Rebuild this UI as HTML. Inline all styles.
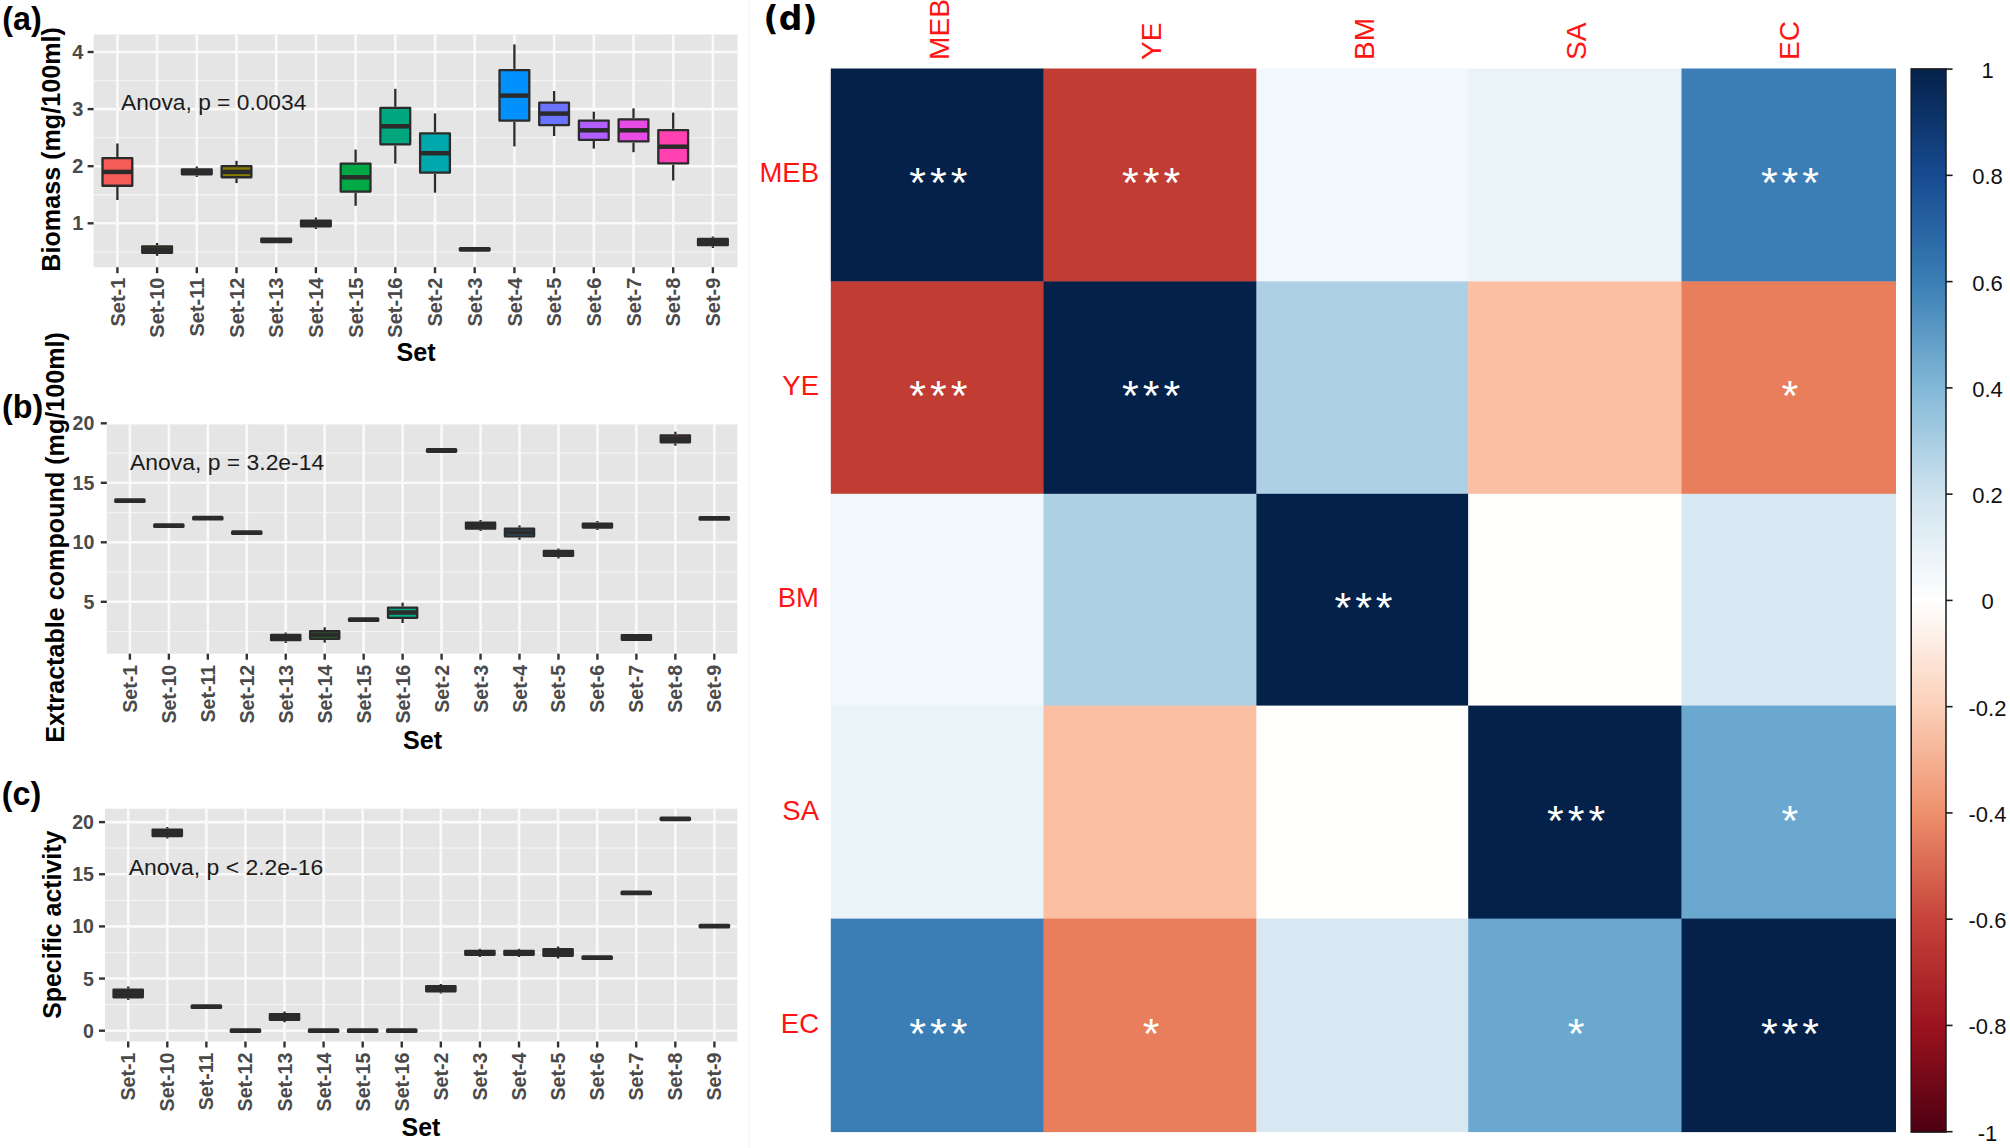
<!DOCTYPE html>
<html lang="en"><head><meta charset="utf-8"><title>Figure: boxplots and correlation heatmap</title>
<style>html,body{margin:0;padding:0;background:#fff}body{width:2010px;height:1148px;overflow:hidden}svg{display:block}</style>
</head><body>
<svg width="2010" height="1148" viewBox="0 0 2010 1148">
<rect width="2010" height="1148" fill="#fff"/>
<line x1="749.5" x2="749.5" y1="0" y2="1148" stroke="#f6f6f6" stroke-width="1"/>
<g>
<g id="panel-a">
<clipPath id="clip-a"><rect x="93.6" y="34.5" width="643.9" height="232.7"/></clipPath>
<rect x="93.6" y="34.5" width="643.9" height="232.7" fill="#e5e5e5"/>
<g clip-path="url(#clip-a)">
<line x1="93.6" x2="737.5" y1="251.85" y2="251.85" stroke="#f3f3f3" stroke-width="1.3"/>
<line x1="93.6" x2="737.5" y1="194.75" y2="194.75" stroke="#f3f3f3" stroke-width="1.3"/>
<line x1="93.6" x2="737.5" y1="137.65" y2="137.65" stroke="#f3f3f3" stroke-width="1.3"/>
<line x1="93.6" x2="737.5" y1="80.55" y2="80.55" stroke="#f3f3f3" stroke-width="1.3"/>
<line x1="93.6" x2="737.5" y1="223.3" y2="223.3" stroke="#fafafa" stroke-width="2.6"/>
<line x1="93.6" x2="737.5" y1="166.2" y2="166.2" stroke="#fafafa" stroke-width="2.6"/>
<line x1="93.6" x2="737.5" y1="109.1" y2="109.1" stroke="#fafafa" stroke-width="2.6"/>
<line x1="93.6" x2="737.5" y1="52" y2="52" stroke="#fafafa" stroke-width="2.6"/>
<line y1="34.5" y2="267.2" x1="117.4" x2="117.4" stroke="#fafafa" stroke-width="2.6"/>
<line y1="34.5" y2="267.2" x1="157.1" x2="157.1" stroke="#fafafa" stroke-width="2.6"/>
<line y1="34.5" y2="267.2" x1="196.8" x2="196.8" stroke="#fafafa" stroke-width="2.6"/>
<line y1="34.5" y2="267.2" x1="236.5" x2="236.5" stroke="#fafafa" stroke-width="2.6"/>
<line y1="34.5" y2="267.2" x1="276.2" x2="276.2" stroke="#fafafa" stroke-width="2.6"/>
<line y1="34.5" y2="267.2" x1="315.9" x2="315.9" stroke="#fafafa" stroke-width="2.6"/>
<line y1="34.5" y2="267.2" x1="355.6" x2="355.6" stroke="#fafafa" stroke-width="2.6"/>
<line y1="34.5" y2="267.2" x1="395.3" x2="395.3" stroke="#fafafa" stroke-width="2.6"/>
<line y1="34.5" y2="267.2" x1="435" x2="435" stroke="#fafafa" stroke-width="2.6"/>
<line y1="34.5" y2="267.2" x1="474.7" x2="474.7" stroke="#fafafa" stroke-width="2.6"/>
<line y1="34.5" y2="267.2" x1="514.4" x2="514.4" stroke="#fafafa" stroke-width="2.6"/>
<line y1="34.5" y2="267.2" x1="554.1" x2="554.1" stroke="#fafafa" stroke-width="2.6"/>
<line y1="34.5" y2="267.2" x1="593.8" x2="593.8" stroke="#fafafa" stroke-width="2.6"/>
<line y1="34.5" y2="267.2" x1="633.5" x2="633.5" stroke="#fafafa" stroke-width="2.6"/>
<line y1="34.5" y2="267.2" x1="673.2" x2="673.2" stroke="#fafafa" stroke-width="2.6"/>
<line y1="34.5" y2="267.2" x1="712.9" x2="712.9" stroke="#fafafa" stroke-width="2.6"/>
</g>
<line x1="117.4" x2="117.4" y1="143.5" y2="157" stroke="#2b2b2b" stroke-width="2.3"/>
<line x1="117.4" x2="117.4" y1="186.9" y2="200" stroke="#2b2b2b" stroke-width="2.3"/>
<rect x="102.51" y="158.15" width="29.78" height="27.6" fill="#f55c57" stroke="#2b2b2b" stroke-width="2.3" stroke-linejoin="round"/>
<line x1="102.51" x2="132.29" y1="171.9" y2="171.9" stroke="#2b2b2b" stroke-width="4.5"/>
<line x1="157.1" x2="157.1" y1="243" y2="245.2" stroke="#2b2b2b" stroke-width="2.3"/>
<line x1="157.1" x2="157.1" y1="253.9" y2="255.9" stroke="#2b2b2b" stroke-width="2.3"/>
<rect x="142.21" y="246.35" width="29.78" height="6.4" fill="#7a5210" stroke="#2b2b2b" stroke-width="2.3" stroke-linejoin="round"/>
<line x1="142.21" x2="171.99" y1="249.6" y2="249.6" stroke="#2b2b2b" stroke-width="4.5"/>
<line x1="196.8" x2="196.8" y1="166.5" y2="168.3" stroke="#2b2b2b" stroke-width="2.3"/>
<line x1="196.8" x2="196.8" y1="175.5" y2="177" stroke="#2b2b2b" stroke-width="2.3"/>
<rect x="181.91" y="169.45" width="29.78" height="4.9" fill="#2b2b2b" stroke="#2b2b2b" stroke-width="2.3" stroke-linejoin="round"/>
<line x1="181.91" x2="211.69" y1="171.9" y2="171.9" stroke="#2b2b2b" stroke-width="4.5"/>
<line x1="236.5" x2="236.5" y1="160.8" y2="165" stroke="#2b2b2b" stroke-width="2.3"/>
<line x1="236.5" x2="236.5" y1="178.4" y2="183.1" stroke="#2b2b2b" stroke-width="2.3"/>
<rect x="221.61" y="166.15" width="29.78" height="11.1" fill="#857c00" stroke="#2b2b2b" stroke-width="2.3" stroke-linejoin="round"/>
<line x1="221.61" x2="251.39" y1="171.9" y2="171.9" stroke="#2b2b2b" stroke-width="4.5"/>
<rect x="261.31" y="238.75" width="29.78" height="3.3" fill="#2b2b2b" stroke="#2b2b2b" stroke-width="2.3" stroke-linejoin="round"/>
<line x1="261.31" x2="291.09" y1="240.4" y2="240.4" stroke="#2b2b2b" stroke-width="4.5"/>
<line x1="315.9" x2="315.9" y1="217.5" y2="219.6" stroke="#2b2b2b" stroke-width="2.3"/>
<line x1="315.9" x2="315.9" y1="227.4" y2="229" stroke="#2b2b2b" stroke-width="2.3"/>
<rect x="301.01" y="220.75" width="29.78" height="5.5" fill="#2b2b2b" stroke="#2b2b2b" stroke-width="2.3" stroke-linejoin="round"/>
<line x1="301.01" x2="330.79" y1="223.5" y2="223.5" stroke="#2b2b2b" stroke-width="4.5"/>
<line x1="355.6" x2="355.6" y1="149.6" y2="162.4" stroke="#2b2b2b" stroke-width="2.3"/>
<line x1="355.6" x2="355.6" y1="192.7" y2="205.8" stroke="#2b2b2b" stroke-width="2.3"/>
<rect x="340.71" y="163.55" width="29.78" height="28" fill="#00a846" stroke="#2b2b2b" stroke-width="2.3" stroke-linejoin="round"/>
<line x1="340.71" x2="370.49" y1="177.3" y2="177.3" stroke="#2b2b2b" stroke-width="4.5"/>
<line x1="395.3" x2="395.3" y1="88.8" y2="106.8" stroke="#2b2b2b" stroke-width="2.3"/>
<line x1="395.3" x2="395.3" y1="145.5" y2="163.6" stroke="#2b2b2b" stroke-width="2.3"/>
<rect x="380.41" y="107.95" width="29.78" height="36.4" fill="#00a67e" stroke="#2b2b2b" stroke-width="2.3" stroke-linejoin="round"/>
<line x1="380.41" x2="410.19" y1="126.3" y2="126.3" stroke="#2b2b2b" stroke-width="4.5"/>
<line x1="435" x2="435" y1="113.4" y2="132.3" stroke="#2b2b2b" stroke-width="2.3"/>
<line x1="435" x2="435" y1="173.8" y2="192.7" stroke="#2b2b2b" stroke-width="2.3"/>
<rect x="420.11" y="133.45" width="29.78" height="39.2" fill="#00a9ae" stroke="#2b2b2b" stroke-width="2.3" stroke-linejoin="round"/>
<line x1="420.11" x2="449.89" y1="153.2" y2="153.2" stroke="#2b2b2b" stroke-width="4.5"/>
<rect x="458.66" y="246.9" width="32.08" height="4.8" rx="1.6" fill="#2b2b2b"/>
<line x1="514.4" x2="514.4" y1="44.4" y2="68.9" stroke="#2b2b2b" stroke-width="2.3"/>
<line x1="514.4" x2="514.4" y1="121.8" y2="146.4" stroke="#2b2b2b" stroke-width="2.3"/>
<rect x="499.51" y="70.05" width="29.78" height="50.6" fill="#0091ff" stroke="#2b2b2b" stroke-width="2.3" stroke-linejoin="round"/>
<line x1="499.51" x2="529.29" y1="95.6" y2="95.6" stroke="#2b2b2b" stroke-width="4.5"/>
<line x1="554.1" x2="554.1" y1="91" y2="101.5" stroke="#2b2b2b" stroke-width="2.3"/>
<line x1="554.1" x2="554.1" y1="126.2" y2="136" stroke="#2b2b2b" stroke-width="2.3"/>
<rect x="539.21" y="102.65" width="29.78" height="22.4" fill="#6973ff" stroke="#2b2b2b" stroke-width="2.3" stroke-linejoin="round"/>
<line x1="539.21" x2="568.99" y1="113.6" y2="113.6" stroke="#2b2b2b" stroke-width="4.5"/>
<line x1="593.8" x2="593.8" y1="111.7" y2="119.5" stroke="#2b2b2b" stroke-width="2.3"/>
<line x1="593.8" x2="593.8" y1="141" y2="148.6" stroke="#2b2b2b" stroke-width="2.3"/>
<rect x="578.91" y="120.65" width="29.78" height="19.2" fill="#b25fff" stroke="#2b2b2b" stroke-width="2.3" stroke-linejoin="round"/>
<line x1="578.91" x2="608.69" y1="130.3" y2="130.3" stroke="#2b2b2b" stroke-width="4.5"/>
<line x1="633.5" x2="633.5" y1="108.4" y2="118.2" stroke="#2b2b2b" stroke-width="2.3"/>
<line x1="633.5" x2="633.5" y1="142.6" y2="152.2" stroke="#2b2b2b" stroke-width="2.3"/>
<rect x="618.61" y="119.35" width="29.78" height="22.1" fill="#e84be4" stroke="#2b2b2b" stroke-width="2.3" stroke-linejoin="round"/>
<line x1="618.61" x2="648.39" y1="130.3" y2="130.3" stroke="#2b2b2b" stroke-width="4.5"/>
<line x1="673.2" x2="673.2" y1="112.6" y2="128.9" stroke="#2b2b2b" stroke-width="2.3"/>
<line x1="673.2" x2="673.2" y1="164.6" y2="180.5" stroke="#2b2b2b" stroke-width="2.3"/>
<rect x="658.31" y="130.05" width="29.78" height="33.4" fill="#ff41b2" stroke="#2b2b2b" stroke-width="2.3" stroke-linejoin="round"/>
<line x1="658.31" x2="688.09" y1="146.7" y2="146.7" stroke="#2b2b2b" stroke-width="4.5"/>
<line x1="712.9" x2="712.9" y1="236.5" y2="237.8" stroke="#2b2b2b" stroke-width="2.3"/>
<line x1="712.9" x2="712.9" y1="246.3" y2="248" stroke="#2b2b2b" stroke-width="2.3"/>
<rect x="698.01" y="238.95" width="29.78" height="6.2" fill="#2b2b2b" stroke="#2b2b2b" stroke-width="2.3" stroke-linejoin="round"/>
<line x1="698.01" x2="727.79" y1="242" y2="242" stroke="#2b2b2b" stroke-width="4.5"/>
<line x1="87.6" x2="93.6" y1="223.3" y2="223.3" stroke="#333333" stroke-width="2.4"/>
<line x1="87.6" x2="93.6" y1="166.2" y2="166.2" stroke="#333333" stroke-width="2.4"/>
<line x1="87.6" x2="93.6" y1="109.1" y2="109.1" stroke="#333333" stroke-width="2.4"/>
<line x1="87.6" x2="93.6" y1="52" y2="52" stroke="#333333" stroke-width="2.4"/>
<line y1="267.2" y2="273.2" x1="117.4" x2="117.4" stroke="#333333" stroke-width="2.4"/>
<line y1="267.2" y2="273.2" x1="157.1" x2="157.1" stroke="#333333" stroke-width="2.4"/>
<line y1="267.2" y2="273.2" x1="196.8" x2="196.8" stroke="#333333" stroke-width="2.4"/>
<line y1="267.2" y2="273.2" x1="236.5" x2="236.5" stroke="#333333" stroke-width="2.4"/>
<line y1="267.2" y2="273.2" x1="276.2" x2="276.2" stroke="#333333" stroke-width="2.4"/>
<line y1="267.2" y2="273.2" x1="315.9" x2="315.9" stroke="#333333" stroke-width="2.4"/>
<line y1="267.2" y2="273.2" x1="355.6" x2="355.6" stroke="#333333" stroke-width="2.4"/>
<line y1="267.2" y2="273.2" x1="395.3" x2="395.3" stroke="#333333" stroke-width="2.4"/>
<line y1="267.2" y2="273.2" x1="435" x2="435" stroke="#333333" stroke-width="2.4"/>
<line y1="267.2" y2="273.2" x1="474.7" x2="474.7" stroke="#333333" stroke-width="2.4"/>
<line y1="267.2" y2="273.2" x1="514.4" x2="514.4" stroke="#333333" stroke-width="2.4"/>
<line y1="267.2" y2="273.2" x1="554.1" x2="554.1" stroke="#333333" stroke-width="2.4"/>
<line y1="267.2" y2="273.2" x1="593.8" x2="593.8" stroke="#333333" stroke-width="2.4"/>
<line y1="267.2" y2="273.2" x1="633.5" x2="633.5" stroke="#333333" stroke-width="2.4"/>
<line y1="267.2" y2="273.2" x1="673.2" x2="673.2" stroke="#333333" stroke-width="2.4"/>
<line y1="267.2" y2="273.2" x1="712.9" x2="712.9" stroke="#333333" stroke-width="2.4"/>
<g font-family='"Liberation Sans", Arial, Helvetica, sans-serif' font-size="20" font-weight="bold" fill="#4a4a4a" text-anchor="end">
<text x="83.4" y="230.46">1</text>
<text x="83.4" y="173.36">2</text>
<text x="83.4" y="116.26">3</text>
<text x="83.4" y="59.16">4</text>
</g>
<g font-family='"Liberation Sans", Arial, Helvetica, sans-serif' font-size="20" font-weight="bold" fill="#4a4a4a" text-anchor="end">
<text transform="translate(124.56 277.6) rotate(-90)">Set-1</text>
<text transform="translate(164.26 277.6) rotate(-90)">Set-10</text>
<text transform="translate(203.96 277.6) rotate(-90)">Set-11</text>
<text transform="translate(243.66 277.6) rotate(-90)">Set-12</text>
<text transform="translate(283.36 277.6) rotate(-90)">Set-13</text>
<text transform="translate(323.06 277.6) rotate(-90)">Set-14</text>
<text transform="translate(362.76 277.6) rotate(-90)">Set-15</text>
<text transform="translate(402.46 277.6) rotate(-90)">Set-16</text>
<text transform="translate(442.16 277.6) rotate(-90)">Set-2</text>
<text transform="translate(481.86 277.6) rotate(-90)">Set-3</text>
<text transform="translate(521.56 277.6) rotate(-90)">Set-4</text>
<text transform="translate(561.26 277.6) rotate(-90)">Set-5</text>
<text transform="translate(600.96 277.6) rotate(-90)">Set-6</text>
<text transform="translate(640.66 277.6) rotate(-90)">Set-7</text>
<text transform="translate(680.36 277.6) rotate(-90)">Set-8</text>
<text transform="translate(720.06 277.6) rotate(-90)">Set-9</text>
</g>
<text font-family='"Liberation Sans", Arial, Helvetica, sans-serif' font-size="25.15" font-weight="bold" fill="#000" text-anchor="middle" transform="translate(59.8 149.4) rotate(-90)">Biomass (mg/100ml)</text>
<text font-family='"Liberation Sans", Arial, Helvetica, sans-serif' font-size="25.15" font-weight="bold" fill="#000" text-anchor="middle" x="416" y="361.3">Set</text>
<text font-family='"Liberation Sans", Arial, Helvetica, sans-serif' font-size="22.75" fill="#1c1c1c" x="121" y="109.6">Anova, p = 0.0034</text>
<text font-family='"Liberation Sans", Arial, Helvetica, sans-serif' font-size="32.3" font-weight="bold" fill="#000" x="2.3" y="30">(a)</text>
</g>
<g id="panel-b">
<clipPath id="clip-b"><rect x="106.8" y="424.2" width="630.5" height="229.5"/></clipPath>
<rect x="106.8" y="424.2" width="630.5" height="229.5" fill="#e5e5e5"/>
<g clip-path="url(#clip-b)">
<line x1="106.8" x2="737.3" y1="631.55" y2="631.55" stroke="#f3f3f3" stroke-width="1.3"/>
<line x1="106.8" x2="737.3" y1="572.05" y2="572.05" stroke="#f3f3f3" stroke-width="1.3"/>
<line x1="106.8" x2="737.3" y1="512.55" y2="512.55" stroke="#f3f3f3" stroke-width="1.3"/>
<line x1="106.8" x2="737.3" y1="453.05" y2="453.05" stroke="#f3f3f3" stroke-width="1.3"/>
<line x1="106.8" x2="737.3" y1="601.8" y2="601.8" stroke="#fafafa" stroke-width="2.6"/>
<line x1="106.8" x2="737.3" y1="542.3" y2="542.3" stroke="#fafafa" stroke-width="2.6"/>
<line x1="106.8" x2="737.3" y1="482.8" y2="482.8" stroke="#fafafa" stroke-width="2.6"/>
<line x1="106.8" x2="737.3" y1="423.3" y2="423.3" stroke="#fafafa" stroke-width="2.6"/>
<line y1="424.2" y2="653.7" x1="129.9" x2="129.9" stroke="#fafafa" stroke-width="2.6"/>
<line y1="424.2" y2="653.7" x1="168.86" x2="168.86" stroke="#fafafa" stroke-width="2.6"/>
<line y1="424.2" y2="653.7" x1="207.82" x2="207.82" stroke="#fafafa" stroke-width="2.6"/>
<line y1="424.2" y2="653.7" x1="246.78" x2="246.78" stroke="#fafafa" stroke-width="2.6"/>
<line y1="424.2" y2="653.7" x1="285.74" x2="285.74" stroke="#fafafa" stroke-width="2.6"/>
<line y1="424.2" y2="653.7" x1="324.7" x2="324.7" stroke="#fafafa" stroke-width="2.6"/>
<line y1="424.2" y2="653.7" x1="363.66" x2="363.66" stroke="#fafafa" stroke-width="2.6"/>
<line y1="424.2" y2="653.7" x1="402.62" x2="402.62" stroke="#fafafa" stroke-width="2.6"/>
<line y1="424.2" y2="653.7" x1="441.58" x2="441.58" stroke="#fafafa" stroke-width="2.6"/>
<line y1="424.2" y2="653.7" x1="480.54" x2="480.54" stroke="#fafafa" stroke-width="2.6"/>
<line y1="424.2" y2="653.7" x1="519.5" x2="519.5" stroke="#fafafa" stroke-width="2.6"/>
<line y1="424.2" y2="653.7" x1="558.46" x2="558.46" stroke="#fafafa" stroke-width="2.6"/>
<line y1="424.2" y2="653.7" x1="597.42" x2="597.42" stroke="#fafafa" stroke-width="2.6"/>
<line y1="424.2" y2="653.7" x1="636.38" x2="636.38" stroke="#fafafa" stroke-width="2.6"/>
<line y1="424.2" y2="653.7" x1="675.34" x2="675.34" stroke="#fafafa" stroke-width="2.6"/>
<line y1="424.2" y2="653.7" x1="714.3" x2="714.3" stroke="#fafafa" stroke-width="2.6"/>
</g>
<rect x="114.14" y="498.2" width="31.52" height="4.8" rx="1.6" fill="#2b2b2b"/>
<rect x="153.1" y="523.3" width="31.52" height="4.8" rx="1.6" fill="#2b2b2b"/>
<rect x="192.06" y="515.8" width="31.52" height="4.8" rx="1.6" fill="#2b2b2b"/>
<rect x="231.02" y="530.2" width="31.52" height="4.8" rx="1.6" fill="#2b2b2b"/>
<line x1="285.74" x2="285.74" y1="632.5" y2="633.8" stroke="#2b2b2b" stroke-width="2.3"/>
<line x1="285.74" x2="285.74" y1="641.3" y2="643" stroke="#2b2b2b" stroke-width="2.3"/>
<rect x="271.13" y="634.95" width="29.22" height="5.2" fill="#2b2b2b" stroke="#2b2b2b" stroke-width="2.3" stroke-linejoin="round"/>
<line x1="271.13" x2="300.35" y1="637.5" y2="637.5" stroke="#2b2b2b" stroke-width="4.5"/>
<line x1="324.7" x2="324.7" y1="627.3" y2="630.1" stroke="#2b2b2b" stroke-width="2.3"/>
<line x1="324.7" x2="324.7" y1="640" y2="642.6" stroke="#2b2b2b" stroke-width="2.3"/>
<rect x="310.09" y="631.25" width="29.22" height="7.6" fill="#2a8230" stroke="#2b2b2b" stroke-width="2.3" stroke-linejoin="round"/>
<line x1="310.09" x2="339.31" y1="635" y2="635" stroke="#2b2b2b" stroke-width="4.5"/>
<rect x="347.9" y="617.3" width="31.52" height="4.8" rx="1.6" fill="#2b2b2b"/>
<line x1="402.62" x2="402.62" y1="602.7" y2="606.4" stroke="#2b2b2b" stroke-width="2.3"/>
<line x1="402.62" x2="402.62" y1="619" y2="623" stroke="#2b2b2b" stroke-width="2.3"/>
<rect x="388.01" y="607.55" width="29.22" height="10.3" fill="#00a887" stroke="#2b2b2b" stroke-width="2.3" stroke-linejoin="round"/>
<line x1="388.01" x2="417.23" y1="612.5" y2="612.5" stroke="#2b2b2b" stroke-width="4.5"/>
<rect x="425.82" y="448.1" width="31.52" height="4.8" rx="1.6" fill="#2b2b2b"/>
<line x1="480.54" x2="480.54" y1="520" y2="521.5" stroke="#2b2b2b" stroke-width="2.3"/>
<line x1="480.54" x2="480.54" y1="529.8" y2="531" stroke="#2b2b2b" stroke-width="2.3"/>
<rect x="465.93" y="522.65" width="29.22" height="6" fill="#2b2b2b" stroke="#2b2b2b" stroke-width="2.3" stroke-linejoin="round"/>
<line x1="465.93" x2="495.15" y1="525.6" y2="525.6" stroke="#2b2b2b" stroke-width="4.5"/>
<line x1="519.5" x2="519.5" y1="525.4" y2="527.6" stroke="#2b2b2b" stroke-width="2.3"/>
<line x1="519.5" x2="519.5" y1="537.5" y2="539.8" stroke="#2b2b2b" stroke-width="2.3"/>
<rect x="504.89" y="528.75" width="29.22" height="7.6" fill="#2874ad" stroke="#2b2b2b" stroke-width="2.3" stroke-linejoin="round"/>
<line x1="504.89" x2="534.11" y1="532.5" y2="532.5" stroke="#2b2b2b" stroke-width="4.5"/>
<line x1="558.46" x2="558.46" y1="548.5" y2="549.8" stroke="#2b2b2b" stroke-width="2.3"/>
<line x1="558.46" x2="558.46" y1="557.1" y2="558.5" stroke="#2b2b2b" stroke-width="2.3"/>
<rect x="543.85" y="550.95" width="29.22" height="5" fill="#2b2b2b" stroke="#2b2b2b" stroke-width="2.3" stroke-linejoin="round"/>
<line x1="543.85" x2="573.07" y1="553.4" y2="553.4" stroke="#2b2b2b" stroke-width="4.5"/>
<line x1="597.42" x2="597.42" y1="521" y2="522.4" stroke="#2b2b2b" stroke-width="2.3"/>
<line x1="597.42" x2="597.42" y1="528.7" y2="530" stroke="#2b2b2b" stroke-width="2.3"/>
<rect x="582.81" y="523.55" width="29.22" height="4" fill="#2b2b2b" stroke="#2b2b2b" stroke-width="2.3" stroke-linejoin="round"/>
<line x1="582.81" x2="612.03" y1="525.5" y2="525.5" stroke="#2b2b2b" stroke-width="4.5"/>
<rect x="621.77" y="635.25" width="29.22" height="4.6" fill="#2b2b2b" stroke="#2b2b2b" stroke-width="2.3" stroke-linejoin="round"/>
<line x1="621.77" x2="650.99" y1="637.5" y2="637.5" stroke="#2b2b2b" stroke-width="4.5"/>
<line x1="675.34" x2="675.34" y1="431.7" y2="434.2" stroke="#2b2b2b" stroke-width="2.3"/>
<line x1="675.34" x2="675.34" y1="443.4" y2="445.7" stroke="#2b2b2b" stroke-width="2.3"/>
<rect x="660.73" y="435.35" width="29.22" height="6.9" fill="#863a7d" stroke="#2b2b2b" stroke-width="2.3" stroke-linejoin="round"/>
<line x1="660.73" x2="689.95" y1="438.8" y2="438.8" stroke="#2b2b2b" stroke-width="4.5"/>
<rect x="698.54" y="516" width="31.52" height="4.8" rx="1.6" fill="#2b2b2b"/>
<line x1="100.8" x2="106.8" y1="601.8" y2="601.8" stroke="#333333" stroke-width="2.4"/>
<line x1="100.8" x2="106.8" y1="542.3" y2="542.3" stroke="#333333" stroke-width="2.4"/>
<line x1="100.8" x2="106.8" y1="482.8" y2="482.8" stroke="#333333" stroke-width="2.4"/>
<line x1="100.8" x2="106.8" y1="423.3" y2="423.3" stroke="#333333" stroke-width="2.4"/>
<line y1="653.7" y2="659.7" x1="129.9" x2="129.9" stroke="#333333" stroke-width="2.4"/>
<line y1="653.7" y2="659.7" x1="168.86" x2="168.86" stroke="#333333" stroke-width="2.4"/>
<line y1="653.7" y2="659.7" x1="207.82" x2="207.82" stroke="#333333" stroke-width="2.4"/>
<line y1="653.7" y2="659.7" x1="246.78" x2="246.78" stroke="#333333" stroke-width="2.4"/>
<line y1="653.7" y2="659.7" x1="285.74" x2="285.74" stroke="#333333" stroke-width="2.4"/>
<line y1="653.7" y2="659.7" x1="324.7" x2="324.7" stroke="#333333" stroke-width="2.4"/>
<line y1="653.7" y2="659.7" x1="363.66" x2="363.66" stroke="#333333" stroke-width="2.4"/>
<line y1="653.7" y2="659.7" x1="402.62" x2="402.62" stroke="#333333" stroke-width="2.4"/>
<line y1="653.7" y2="659.7" x1="441.58" x2="441.58" stroke="#333333" stroke-width="2.4"/>
<line y1="653.7" y2="659.7" x1="480.54" x2="480.54" stroke="#333333" stroke-width="2.4"/>
<line y1="653.7" y2="659.7" x1="519.5" x2="519.5" stroke="#333333" stroke-width="2.4"/>
<line y1="653.7" y2="659.7" x1="558.46" x2="558.46" stroke="#333333" stroke-width="2.4"/>
<line y1="653.7" y2="659.7" x1="597.42" x2="597.42" stroke="#333333" stroke-width="2.4"/>
<line y1="653.7" y2="659.7" x1="636.38" x2="636.38" stroke="#333333" stroke-width="2.4"/>
<line y1="653.7" y2="659.7" x1="675.34" x2="675.34" stroke="#333333" stroke-width="2.4"/>
<line y1="653.7" y2="659.7" x1="714.3" x2="714.3" stroke="#333333" stroke-width="2.4"/>
<g font-family='"Liberation Sans", Arial, Helvetica, sans-serif' font-size="19.6" font-weight="bold" fill="#4a4a4a" text-anchor="end">
<text x="94.3" y="608.82">5</text>
<text x="94.3" y="549.32">10</text>
<text x="94.3" y="489.82">15</text>
<text x="94.3" y="430.32">20</text>
</g>
<g font-family='"Liberation Sans", Arial, Helvetica, sans-serif' font-size="19.6" font-weight="bold" fill="#4a4a4a" text-anchor="end">
<text transform="translate(136.92 664.8) rotate(-90)">Set-1</text>
<text transform="translate(175.88 664.8) rotate(-90)">Set-10</text>
<text transform="translate(214.84 664.8) rotate(-90)">Set-11</text>
<text transform="translate(253.8 664.8) rotate(-90)">Set-12</text>
<text transform="translate(292.76 664.8) rotate(-90)">Set-13</text>
<text transform="translate(331.72 664.8) rotate(-90)">Set-14</text>
<text transform="translate(370.68 664.8) rotate(-90)">Set-15</text>
<text transform="translate(409.64 664.8) rotate(-90)">Set-16</text>
<text transform="translate(448.6 664.8) rotate(-90)">Set-2</text>
<text transform="translate(487.56 664.8) rotate(-90)">Set-3</text>
<text transform="translate(526.52 664.8) rotate(-90)">Set-4</text>
<text transform="translate(565.48 664.8) rotate(-90)">Set-5</text>
<text transform="translate(604.44 664.8) rotate(-90)">Set-6</text>
<text transform="translate(643.4 664.8) rotate(-90)">Set-7</text>
<text transform="translate(682.36 664.8) rotate(-90)">Set-8</text>
<text transform="translate(721.32 664.8) rotate(-90)">Set-9</text>
</g>
<text font-family='"Liberation Sans", Arial, Helvetica, sans-serif' font-size="25.15" font-weight="bold" fill="#000" text-anchor="middle" transform="translate(63.6 537.4) rotate(-90)">Extractable compound (mg/100ml)</text>
<text font-family='"Liberation Sans", Arial, Helvetica, sans-serif' font-size="25.15" font-weight="bold" fill="#000" text-anchor="middle" x="422.6" y="748.6">Set</text>
<text font-family='"Liberation Sans", Arial, Helvetica, sans-serif' font-size="22.9" fill="#1c1c1c" x="130.1" y="469.9">Anova, p = 3.2e-14</text>
<text font-family='"Liberation Sans", Arial, Helvetica, sans-serif' font-size="32.3" font-weight="bold" fill="#000" x="2.1" y="417.5">(b)</text>
</g>
<g id="panel-c">
<clipPath id="clip-c"><rect x="105" y="808.7" width="632.3" height="232.8"/></clipPath>
<rect x="105" y="808.7" width="632.3" height="232.8" fill="#e5e5e5"/>
<g clip-path="url(#clip-c)">
<line x1="105" x2="737.3" y1="1004.62" y2="1004.62" stroke="#f3f3f3" stroke-width="1.3"/>
<line x1="105" x2="737.3" y1="952.48" y2="952.48" stroke="#f3f3f3" stroke-width="1.3"/>
<line x1="105" x2="737.3" y1="900.33" y2="900.33" stroke="#f3f3f3" stroke-width="1.3"/>
<line x1="105" x2="737.3" y1="848.18" y2="848.18" stroke="#f3f3f3" stroke-width="1.3"/>
<line x1="105" x2="737.3" y1="1030.7" y2="1030.7" stroke="#fafafa" stroke-width="2.6"/>
<line x1="105" x2="737.3" y1="978.55" y2="978.55" stroke="#fafafa" stroke-width="2.6"/>
<line x1="105" x2="737.3" y1="926.4" y2="926.4" stroke="#fafafa" stroke-width="2.6"/>
<line x1="105" x2="737.3" y1="874.25" y2="874.25" stroke="#fafafa" stroke-width="2.6"/>
<line x1="105" x2="737.3" y1="822.1" y2="822.1" stroke="#fafafa" stroke-width="2.6"/>
<line y1="808.7" y2="1041.5" x1="128.2" x2="128.2" stroke="#fafafa" stroke-width="2.6"/>
<line y1="808.7" y2="1041.5" x1="167.28" x2="167.28" stroke="#fafafa" stroke-width="2.6"/>
<line y1="808.7" y2="1041.5" x1="206.36" x2="206.36" stroke="#fafafa" stroke-width="2.6"/>
<line y1="808.7" y2="1041.5" x1="245.44" x2="245.44" stroke="#fafafa" stroke-width="2.6"/>
<line y1="808.7" y2="1041.5" x1="284.52" x2="284.52" stroke="#fafafa" stroke-width="2.6"/>
<line y1="808.7" y2="1041.5" x1="323.6" x2="323.6" stroke="#fafafa" stroke-width="2.6"/>
<line y1="808.7" y2="1041.5" x1="362.68" x2="362.68" stroke="#fafafa" stroke-width="2.6"/>
<line y1="808.7" y2="1041.5" x1="401.76" x2="401.76" stroke="#fafafa" stroke-width="2.6"/>
<line y1="808.7" y2="1041.5" x1="440.84" x2="440.84" stroke="#fafafa" stroke-width="2.6"/>
<line y1="808.7" y2="1041.5" x1="479.92" x2="479.92" stroke="#fafafa" stroke-width="2.6"/>
<line y1="808.7" y2="1041.5" x1="519" x2="519" stroke="#fafafa" stroke-width="2.6"/>
<line y1="808.7" y2="1041.5" x1="558.08" x2="558.08" stroke="#fafafa" stroke-width="2.6"/>
<line y1="808.7" y2="1041.5" x1="597.16" x2="597.16" stroke="#fafafa" stroke-width="2.6"/>
<line y1="808.7" y2="1041.5" x1="636.24" x2="636.24" stroke="#fafafa" stroke-width="2.6"/>
<line y1="808.7" y2="1041.5" x1="675.32" x2="675.32" stroke="#fafafa" stroke-width="2.6"/>
<line y1="808.7" y2="1041.5" x1="714.4" x2="714.4" stroke="#fafafa" stroke-width="2.6"/>
</g>
<line x1="128.2" x2="128.2" y1="986.5" y2="988.6" stroke="#2b2b2b" stroke-width="2.3"/>
<line x1="128.2" x2="128.2" y1="998.4" y2="1000" stroke="#2b2b2b" stroke-width="2.3"/>
<rect x="113.54" y="989.75" width="29.31" height="7.5" fill="#2b2b2b" stroke="#2b2b2b" stroke-width="2.3" stroke-linejoin="round"/>
<line x1="113.54" x2="142.85" y1="993.5" y2="993.5" stroke="#2b2b2b" stroke-width="4.5"/>
<line x1="167.28" x2="167.28" y1="827" y2="828.5" stroke="#2b2b2b" stroke-width="2.3"/>
<line x1="167.28" x2="167.28" y1="837.2" y2="838.5" stroke="#2b2b2b" stroke-width="2.3"/>
<rect x="152.62" y="829.65" width="29.31" height="6.4" fill="#2b2b2b" stroke="#2b2b2b" stroke-width="2.3" stroke-linejoin="round"/>
<line x1="152.62" x2="181.93" y1="832.8" y2="832.8" stroke="#2b2b2b" stroke-width="4.5"/>
<rect x="190.55" y="1004.2" width="31.61" height="4.8" rx="1.6" fill="#2b2b2b"/>
<rect x="229.63" y="1028.3" width="31.61" height="4.8" rx="1.6" fill="#2b2b2b"/>
<line x1="284.52" x2="284.52" y1="1011.5" y2="1013" stroke="#2b2b2b" stroke-width="2.3"/>
<line x1="284.52" x2="284.52" y1="1020.9" y2="1022.3" stroke="#2b2b2b" stroke-width="2.3"/>
<rect x="269.87" y="1014.15" width="29.31" height="5.6" fill="#2b2b2b" stroke="#2b2b2b" stroke-width="2.3" stroke-linejoin="round"/>
<line x1="269.87" x2="299.17" y1="1017" y2="1017" stroke="#2b2b2b" stroke-width="4.5"/>
<rect x="307.8" y="1028.3" width="31.61" height="4.8" rx="1.6" fill="#2b2b2b"/>
<rect x="346.88" y="1028.3" width="31.61" height="4.8" rx="1.6" fill="#2b2b2b"/>
<rect x="385.96" y="1028.3" width="31.61" height="4.8" rx="1.6" fill="#2b2b2b"/>
<line x1="440.84" x2="440.84" y1="984" y2="985.1" stroke="#2b2b2b" stroke-width="2.3"/>
<line x1="440.84" x2="440.84" y1="992.4" y2="993.5" stroke="#2b2b2b" stroke-width="2.3"/>
<rect x="426.19" y="986.25" width="29.31" height="5" fill="#2b2b2b" stroke="#2b2b2b" stroke-width="2.3" stroke-linejoin="round"/>
<line x1="426.19" x2="455.49" y1="988.8" y2="988.8" stroke="#2b2b2b" stroke-width="4.5"/>
<line x1="479.92" x2="479.92" y1="948.8" y2="949.8" stroke="#2b2b2b" stroke-width="2.3"/>
<line x1="479.92" x2="479.92" y1="955.9" y2="957" stroke="#2b2b2b" stroke-width="2.3"/>
<rect x="465.26" y="950.95" width="29.31" height="3.8" fill="#2b2b2b" stroke="#2b2b2b" stroke-width="2.3" stroke-linejoin="round"/>
<line x1="465.26" x2="494.57" y1="952.8" y2="952.8" stroke="#2b2b2b" stroke-width="4.5"/>
<line x1="519" x2="519" y1="948.8" y2="949.8" stroke="#2b2b2b" stroke-width="2.3"/>
<line x1="519" x2="519" y1="955.9" y2="957" stroke="#2b2b2b" stroke-width="2.3"/>
<rect x="504.35" y="950.95" width="29.31" height="3.8" fill="#2b2b2b" stroke="#2b2b2b" stroke-width="2.3" stroke-linejoin="round"/>
<line x1="504.35" x2="533.65" y1="952.8" y2="952.8" stroke="#2b2b2b" stroke-width="4.5"/>
<line x1="558.08" x2="558.08" y1="946.5" y2="948" stroke="#2b2b2b" stroke-width="2.3"/>
<line x1="558.08" x2="558.08" y1="957" y2="958.5" stroke="#2b2b2b" stroke-width="2.3"/>
<rect x="543.42" y="949.15" width="29.31" height="6.7" fill="#2b2b2b" stroke="#2b2b2b" stroke-width="2.3" stroke-linejoin="round"/>
<line x1="543.42" x2="572.73" y1="952.5" y2="952.5" stroke="#2b2b2b" stroke-width="4.5"/>
<rect x="581.36" y="955.2" width="31.61" height="4.8" rx="1.6" fill="#2b2b2b"/>
<rect x="620.44" y="890.5" width="31.61" height="4.8" rx="1.6" fill="#2b2b2b"/>
<rect x="659.51" y="816.4" width="31.61" height="4.8" rx="1.6" fill="#2b2b2b"/>
<rect x="698.59" y="923.7" width="31.61" height="4.8" rx="1.6" fill="#2b2b2b"/>
<line x1="99" x2="105" y1="1030.7" y2="1030.7" stroke="#333333" stroke-width="2.4"/>
<line x1="99" x2="105" y1="978.55" y2="978.55" stroke="#333333" stroke-width="2.4"/>
<line x1="99" x2="105" y1="926.4" y2="926.4" stroke="#333333" stroke-width="2.4"/>
<line x1="99" x2="105" y1="874.25" y2="874.25" stroke="#333333" stroke-width="2.4"/>
<line x1="99" x2="105" y1="822.1" y2="822.1" stroke="#333333" stroke-width="2.4"/>
<line y1="1041.5" y2="1047.5" x1="128.2" x2="128.2" stroke="#333333" stroke-width="2.4"/>
<line y1="1041.5" y2="1047.5" x1="167.28" x2="167.28" stroke="#333333" stroke-width="2.4"/>
<line y1="1041.5" y2="1047.5" x1="206.36" x2="206.36" stroke="#333333" stroke-width="2.4"/>
<line y1="1041.5" y2="1047.5" x1="245.44" x2="245.44" stroke="#333333" stroke-width="2.4"/>
<line y1="1041.5" y2="1047.5" x1="284.52" x2="284.52" stroke="#333333" stroke-width="2.4"/>
<line y1="1041.5" y2="1047.5" x1="323.6" x2="323.6" stroke="#333333" stroke-width="2.4"/>
<line y1="1041.5" y2="1047.5" x1="362.68" x2="362.68" stroke="#333333" stroke-width="2.4"/>
<line y1="1041.5" y2="1047.5" x1="401.76" x2="401.76" stroke="#333333" stroke-width="2.4"/>
<line y1="1041.5" y2="1047.5" x1="440.84" x2="440.84" stroke="#333333" stroke-width="2.4"/>
<line y1="1041.5" y2="1047.5" x1="479.92" x2="479.92" stroke="#333333" stroke-width="2.4"/>
<line y1="1041.5" y2="1047.5" x1="519" x2="519" stroke="#333333" stroke-width="2.4"/>
<line y1="1041.5" y2="1047.5" x1="558.08" x2="558.08" stroke="#333333" stroke-width="2.4"/>
<line y1="1041.5" y2="1047.5" x1="597.16" x2="597.16" stroke="#333333" stroke-width="2.4"/>
<line y1="1041.5" y2="1047.5" x1="636.24" x2="636.24" stroke="#333333" stroke-width="2.4"/>
<line y1="1041.5" y2="1047.5" x1="675.32" x2="675.32" stroke="#333333" stroke-width="2.4"/>
<line y1="1041.5" y2="1047.5" x1="714.4" x2="714.4" stroke="#333333" stroke-width="2.4"/>
<g font-family='"Liberation Sans", Arial, Helvetica, sans-serif' font-size="19.6" font-weight="bold" fill="#4a4a4a" text-anchor="end">
<text x="94" y="1037.72">0</text>
<text x="94" y="985.57">5</text>
<text x="94" y="933.42">10</text>
<text x="94" y="881.27">15</text>
<text x="94" y="829.12">20</text>
</g>
<g font-family='"Liberation Sans", Arial, Helvetica, sans-serif' font-size="19.6" font-weight="bold" fill="#4a4a4a" text-anchor="end">
<text transform="translate(135.22 1052.6) rotate(-90)">Set-1</text>
<text transform="translate(174.3 1052.6) rotate(-90)">Set-10</text>
<text transform="translate(213.38 1052.6) rotate(-90)">Set-11</text>
<text transform="translate(252.46 1052.6) rotate(-90)">Set-12</text>
<text transform="translate(291.54 1052.6) rotate(-90)">Set-13</text>
<text transform="translate(330.62 1052.6) rotate(-90)">Set-14</text>
<text transform="translate(369.7 1052.6) rotate(-90)">Set-15</text>
<text transform="translate(408.78 1052.6) rotate(-90)">Set-16</text>
<text transform="translate(447.86 1052.6) rotate(-90)">Set-2</text>
<text transform="translate(486.94 1052.6) rotate(-90)">Set-3</text>
<text transform="translate(526.02 1052.6) rotate(-90)">Set-4</text>
<text transform="translate(565.1 1052.6) rotate(-90)">Set-5</text>
<text transform="translate(604.18 1052.6) rotate(-90)">Set-6</text>
<text transform="translate(643.26 1052.6) rotate(-90)">Set-7</text>
<text transform="translate(682.34 1052.6) rotate(-90)">Set-8</text>
<text transform="translate(721.42 1052.6) rotate(-90)">Set-9</text>
</g>
<text font-family='"Liberation Sans", Arial, Helvetica, sans-serif' font-size="24.9" font-weight="bold" fill="#000" text-anchor="middle" transform="translate(60.8 924.7) rotate(-90)">Specific activity</text>
<text font-family='"Liberation Sans", Arial, Helvetica, sans-serif' font-size="24.9" font-weight="bold" fill="#000" text-anchor="middle" x="420.9" y="1135.8">Set</text>
<text font-family='"Liberation Sans", Arial, Helvetica, sans-serif' font-size="22.95" fill="#1c1c1c" x="128.8" y="874.5">Anova, p &lt; 2.2e-16</text>
<text font-family='"Liberation Sans", Arial, Helvetica, sans-serif' font-size="32.3" font-weight="bold" fill="#000" x="1.8" y="805.3">(c)</text>
</g>
<g id="panel-d">
<g>
<rect x="830.8" y="68.5" width="213.1" height="213.3" fill="#04214a"/>
<rect x="1043.5" y="68.5" width="213.3" height="213.3" fill="#c13c33"/>
<rect x="1256.4" y="68.5" width="212.2" height="213.3" fill="#f2f7fb"/>
<rect x="1468.2" y="68.5" width="213.7" height="213.3" fill="#eaf3f8"/>
<rect x="1681.5" y="68.5" width="214.5" height="213.3" fill="#3a7eb5"/>
<rect x="830.8" y="281.4" width="213.1" height="212.8" fill="#c13c33"/>
<rect x="1043.5" y="281.4" width="213.3" height="212.8" fill="#04214a"/>
<rect x="1256.4" y="281.4" width="212.2" height="212.8" fill="#aed0e4"/>
<rect x="1468.2" y="281.4" width="213.7" height="212.8" fill="#fbc0a3"/>
<rect x="1681.5" y="281.4" width="214.5" height="212.8" fill="#e87e5c"/>
<rect x="830.8" y="493.8" width="213.1" height="212.2" fill="#f2f7fb"/>
<rect x="1043.5" y="493.8" width="213.3" height="212.2" fill="#aed0e4"/>
<rect x="1256.4" y="493.8" width="212.2" height="212.2" fill="#04214a"/>
<rect x="1468.2" y="493.8" width="213.7" height="212.2" fill="#fefefc"/>
<rect x="1681.5" y="493.8" width="214.5" height="212.2" fill="#d8e8f2"/>
<rect x="830.8" y="705.6" width="213.1" height="213.4" fill="#eaf3f8"/>
<rect x="1043.5" y="705.6" width="213.3" height="213.4" fill="#fbc0a3"/>
<rect x="1256.4" y="705.6" width="212.2" height="213.4" fill="#fefefc"/>
<rect x="1468.2" y="705.6" width="213.7" height="213.4" fill="#04214a"/>
<rect x="1681.5" y="705.6" width="214.5" height="213.4" fill="#6aa8cf"/>
<rect x="830.8" y="918.6" width="213.1" height="213.5" fill="#3a7eb5"/>
<rect x="1043.5" y="918.6" width="213.3" height="213.5" fill="#e87e5c"/>
<rect x="1256.4" y="918.6" width="212.2" height="213.5" fill="#d8e8f2"/>
<rect x="1468.2" y="918.6" width="213.7" height="213.5" fill="#6aa8cf"/>
<rect x="1681.5" y="918.6" width="214.5" height="213.5" fill="#04214a"/>
</g>
<g font-family='"Liberation Sans", Arial, Helvetica, sans-serif' font-size="43" fill="#fff" text-anchor="middle" letter-spacing="3.95">
<text x="940.35" y="197.35">***</text>
<text x="1153.15" y="197.35">***</text>
<text x="1791.95" y="197.35">***</text>
<text x="940.35" y="410">***</text>
<text x="1153.15" y="410">***</text>
<text x="1791.95" y="410">*</text>
<text x="1365.5" y="622.1">***</text>
<text x="1578.05" y="834.5">***</text>
<text x="1791.95" y="834.5">*</text>
<text x="940.35" y="1047.75">***</text>
<text x="1153.15" y="1047.75">*</text>
<text x="1578.05" y="1047.75">*</text>
<text x="1791.95" y="1047.75">***</text>
</g>
<g font-family='"Liberation Sans", Arial, Helvetica, sans-serif' font-size="27.5" fill="#ff1414">
<text x="819" y="182.35" text-anchor="end">MEB</text>
<text x="819" y="395" text-anchor="end">YE</text>
<text x="819" y="607.1" text-anchor="end">BM</text>
<text x="819" y="819.5" text-anchor="end">SA</text>
<text x="819" y="1032.75" text-anchor="end">EC</text>
<text font-size="28.1" transform="translate(948.65 60) rotate(-90)">MEB</text>
<text font-size="28.1" transform="translate(1161.45 60) rotate(-90)">YE</text>
<text font-size="28.1" transform="translate(1373.8 60) rotate(-90)">BM</text>
<text font-size="28.1" transform="translate(1586.35 60) rotate(-90)">SA</text>
<text font-size="28.1" transform="translate(1798.55 60) rotate(-90)">EC</text>
</g>
<defs><linearGradient id="rdbu" x1="0" y1="0" x2="0" y2="1">
<stop offset="0" stop-color="#04214a"/>
<stop offset="0.1" stop-color="#174b91"/>
<stop offset="0.2" stop-color="#3a7eb5"/>
<stop offset="0.3" stop-color="#82b8d7"/>
<stop offset="0.4" stop-color="#cfe3ef"/>
<stop offset="0.5" stop-color="#ffffff"/>
<stop offset="0.6" stop-color="#fbd0b8"/>
<stop offset="0.7" stop-color="#ee906c"/>
<stop offset="0.8" stop-color="#c6433a"/>
<stop offset="0.9" stop-color="#9c131e"/>
<stop offset="1" stop-color="#4d0012"/>
</linearGradient></defs>
<rect x="1911.2" y="68.9" width="34.8" height="1063.2" fill="url(#rdbu)" stroke="#1a1a1a" stroke-width="1.5"/>
<g stroke="#1a1a1a" stroke-width="1.6">
<line x1="1946.0" x2="1952.6" y1="69.1" y2="69.1"/>
<line x1="1946.0" x2="1952.6" y1="175.36" y2="175.36"/>
<line x1="1946.0" x2="1952.6" y1="281.62" y2="281.62"/>
<line x1="1946.0" x2="1952.6" y1="387.88" y2="387.88"/>
<line x1="1946.0" x2="1952.6" y1="494.14" y2="494.14"/>
<line x1="1946.0" x2="1952.6" y1="600.4" y2="600.4"/>
<line x1="1946.0" x2="1952.6" y1="706.66" y2="706.66"/>
<line x1="1946.0" x2="1952.6" y1="812.92" y2="812.92"/>
<line x1="1946.0" x2="1952.6" y1="919.18" y2="919.18"/>
<line x1="1946.0" x2="1952.6" y1="1025.44" y2="1025.44"/>
<line x1="1946.0" x2="1952.6" y1="1131.7" y2="1131.7"/>
</g>
<g font-family='"Liberation Sans", Arial, Helvetica, sans-serif' font-size="22" fill="#111" text-anchor="middle">
<text x="1987.5" y="77.98">1</text>
<text x="1987.5" y="184.24">0.8</text>
<text x="1987.5" y="290.5">0.6</text>
<text x="1987.5" y="396.76">0.4</text>
<text x="1987.5" y="503.02">0.2</text>
<text x="1987.5" y="609.28">0</text>
<text x="1987.5" y="715.54">-0.2</text>
<text x="1987.5" y="821.8">-0.4</text>
<text x="1987.5" y="928.06">-0.6</text>
<text x="1987.5" y="1034.32">-0.8</text>
<text x="1987.5" y="1140.58">-1</text>
</g>
<text font-family='"DejaVu Sans", "Liberation Sans", sans-serif' font-size="33" font-weight="bold" fill="#000" x="763.6" y="29.6">(d)</text>
</g>
</g>
</svg></body></html>
